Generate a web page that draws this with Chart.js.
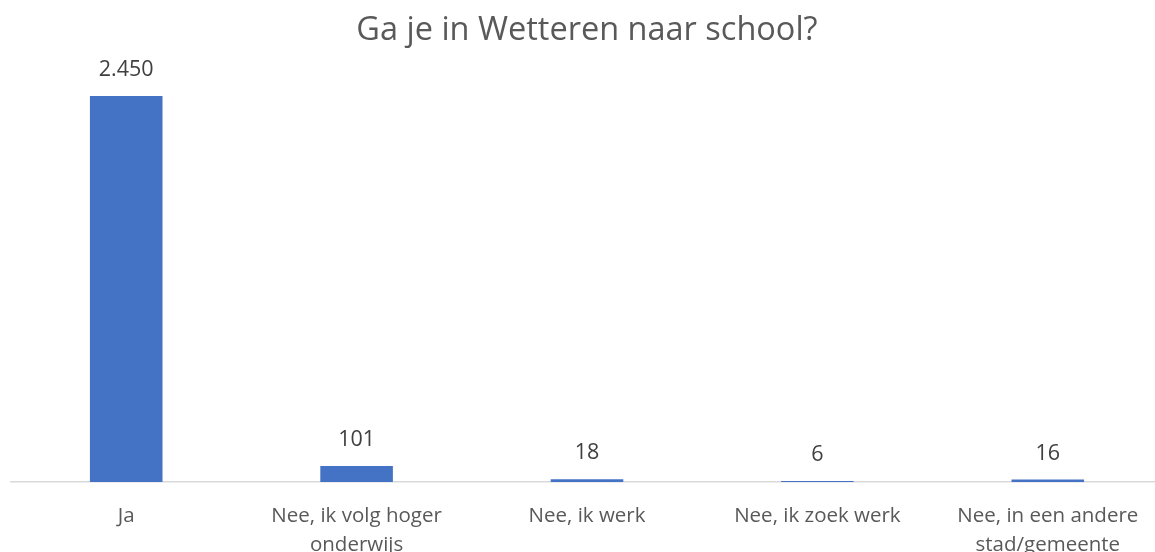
<!DOCTYPE html>
<html>
<head>
<meta charset="utf-8">
<script src="https://cdn.jsdelivr.net/npm/chart.js@4"></script>
<style>
  html, body { margin:0; padding:0; background:#fff; overflow:hidden; }
  /* grafiek loopt rechts iets buiten beeld, zoals in het origineel */
  #wrap { width:1163px; height:552px; }
</style>
</head>
<body>
<div id="wrap"><canvas id="chart"></canvas></div>
<script>
// categorieen en aantallen
const categories = [
    "Ja",
    ["Nee, ik volg hoger", "onderwijs"],
    "Nee, ik werk",
    "Nee, ik zoek werk",
    ["Nee, in een andere", "stad/gemeente"]
];
const counts = [2450, 101, 18, 6, 16];
const chartTitle = "Ga je in Wetteren naar school?";

const FONT = "'Open Sans', 'Noto Sans', sans-serif";

// waarde boven elke staaf tekenen
const valueLabels = {
    id: 'valueLabels',
    afterDatasetsDraw(chart) {
        const ctx = chart.ctx;
        const meta = chart.getDatasetMeta(0);
        ctx.save();
        ctx.font = "21.5px " + FONT;
        ctx.fillStyle = "#404040";
        ctx.textAlign = "center";
        ctx.textBaseline = "middle";
        meta.data.forEach(function(bar, i) {
            ctx.fillText(counts[i].toLocaleString('nl-BE'), bar.x, bar.y - 26);
        });
        ctx.restore();
    }
};

new Chart(document.getElementById('chart'), {
    type: 'bar',
    data: {
        labels: categories,
        datasets: [{
            data: counts,
            backgroundColor: '#4472C4',
            categoryPercentage: 1,
            barPercentage: 0.315
        }]
    },
    options: {
        responsive: true,
        maintainAspectRatio: false,
        animation: { duration: 0 },
        layout: { padding: { left: 11, right: 0, top: 0, bottom: 0 } },
        scales: {
            x: {
                grid: { display: false },
                border: { color: '#d9d9d9', width: 1.5 },
                ticks: {
                    color: '#595959',
                    autoSkip: false,
                    maxRotation: 0,
                    padding: 12,
                    font: { family: FONT, size: 20.5, lineHeight: 1.41 }
                },
                afterFit: function(scale) { scale.height = 70; }
            },
            y: {
                display: false,
                min: 0,
                max: 2450
            }
        },
        plugins: {
            legend: { display: false },
            tooltip: { enabled: false },
            title: {
                display: true,
                text: chartTitle,
                color: '#595959',
                padding: { top: 11, bottom: 46 },
                font: { family: FONT, size: 32.5, weight: 'normal', lineHeight: 1.2 }
            }
        }
    },
    plugins: [valueLabels]
});
</script>
</body>
</html>
